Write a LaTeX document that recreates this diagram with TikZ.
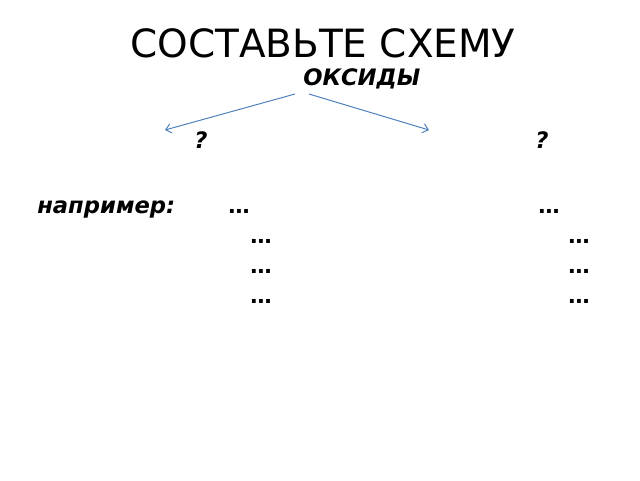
\documentclass[tikz,border=0pt]{standalone}
\usepackage{fontspec}
\setmainfont{DejaVu Sans}[BoldItalicFont={DejaVu Sans Bold Oblique}]
\usepackage{xcolor}
\usetikzlibrary{arrows.meta}

\begin{document}
\begin{tikzpicture}[x=0.75pt,y=0.75pt,yscale=-1,xscale=1,
  lbl/.style={anchor=base west,inner sep=0pt,font=\fontsize{17}{20}\selectfont\bfseries\itshape},
  gap/.style={anchor=base west,inner sep=0pt,font=\fontsize{16}{18}\selectfont\bfseries},
  branch/.style={draw={rgb, 255:red, 79; green, 129; blue, 189},line width=0.75,-{Straight Barb[length=4pt,width=7pt]}}]
  \useasboundingbox (0,0) rectangle (640,480);
  % Title
  \node (title) [anchor=base west,inner sep=0pt,font=\fontsize{29.2}{34}\selectfont] at (130,57) {СОСТАВЬТЕ СХЕМУ};
  \node (oxides) [lbl] at (303,85) {ОКСИДЫ};
  % branches
  \coordinate (lstart) at (295,94);
  \coordinate (rstart) at (309,94);
  \coordinate (lend) at (165,130);
  \coordinate (rend) at (429,130);
  \draw [branch] (lstart) -- (lend);
  \draw [branch] (rstart) -- (rend);
  \node (qleft) [lbl] at (194,148) {?};
  \node (qright) [lbl] at (535,148) {?};
  % examples
  \node (eg) [lbl] at (37,213) {например:};
  \node (la) [gap] at (228,213) {…};
  \node (ra) [gap] at (538,213) {…};
  \foreach \y [count=\i] in {243,273,303} {
    \node (lb\i) [gap] at (250,\y) {…};
    \node (rb\i) [gap] at (568,\y) {…};
  }
\end{tikzpicture}
\end{document}
